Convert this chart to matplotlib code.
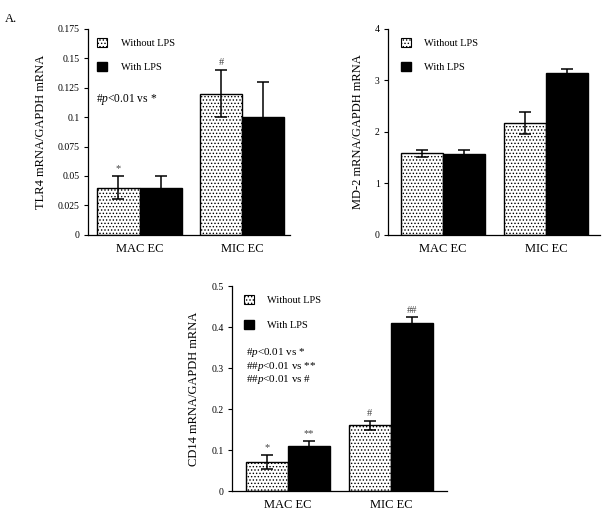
import matplotlib
matplotlib.use('Agg')
import matplotlib.pyplot as plt
from matplotlib.patches import Patch

plt.rcParams['font.family'] = ['Liberation Serif', 'DejaVu Serif']
plt.rcParams['mathtext.fontset'] = 'custom'
plt.rcParams['mathtext.rm'] = 'Liberation Serif'
plt.rcParams['mathtext.it'] = 'Liberation Serif:italic'
plt.rcParams['hatch.linewidth'] = 0.6

# data
groups = ['MAC EC', 'MIC EC']

tlr4_without = [0.040, 0.120]
tlr4_without_err = [0.010, 0.020]
tlr4_with = [0.040, 0.100]
tlr4_with_err = [0.010, 0.030]

md2_without = [1.58, 2.17]
md2_without_err = [0.07, 0.21]
md2_with = [1.56, 3.14]
md2_with_err = [0.08, 0.08]

cd14_without = [0.070, 0.160]
cd14_without_err = [0.017, 0.012]
cd14_with = [0.110, 0.410]
cd14_with_err = [0.012, 0.014]

tlr4_ticks = [0, 0.025, 0.05, 0.075, 0.1, 0.125, 0.15, 0.175]
tlr4_ticklabels = ['0', '0.025', '0.05', '0.075', '0.1', '0.125', '0.15', '0.175']
md2_ticks = [0, 1, 2, 3, 4]
cd14_ticks = [0, 0.1, 0.2, 0.3, 0.4, 0.5]
cd14_ticklabels = ['0', '0.1', '0.2', '0.3', '0.4', '0.5']

fig = plt.figure(figsize=(6.03, 5.16), dpi=100)
fig.text(0.008, 0.975, 'A.', fontsize=9, va='top')

W = 0.41
x = [0, 1]


def panel(rect, without, without_err, with_, with_err, ylim, ticks, ticklabels, xlim, ylabel, leg_xy):
    ax = fig.add_axes(rect)
    xl = [i - W / 2 for i in x]
    xr = [i + W / 2 for i in x]
    ax.bar(xl, without, W, color='white', edgecolor='black', hatch='.....', linewidth=1.0,
           yerr=without_err, error_kw=dict(ecolor='black', elinewidth=1.1, capsize=4.5, capthick=1.1))
    ax.bar(xr, with_, W, color='black', edgecolor='black', linewidth=1.0,
           yerr=with_err, error_kw=dict(ecolor='black', elinewidth=1.1, capsize=4.5, capthick=1.1))
    ax.set_xlim(*xlim)
    ax.set_ylim(*ylim)
    ax.set_yticks(ticks)
    ax.set_yticklabels(ticklabels, fontsize=7)
    ax.set_xticks(x)
    ax.set_xticklabels(groups, fontsize=9)
    ax.tick_params(axis='x', length=0, pad=6)
    ax.tick_params(axis='y', length=3, width=0.8, pad=3)
    ax.spines['top'].set_visible(False)
    ax.spines['right'].set_visible(False)
    ax.spines['left'].set_linewidth(0.9)
    ax.spines['bottom'].set_linewidth(0.9)
    ax.set_ylabel(ylabel, fontsize=9, labelpad=8)
    handles = [Patch(facecolor='white', edgecolor='black', hatch='.....', linewidth=0.8),
               Patch(facecolor='black', edgecolor='black')]
    ax.legend(handles, ['Without LPS', 'With LPS'], loc='upper left', bbox_to_anchor=leg_xy,
              frameon=False, fontsize=7.5, handlelength=0.95, handleheight=0.95,
              handletextpad=1.3, labelspacing=1.35, borderpad=0, borderaxespad=0)
    return ax


def mark(ax, xpos, top, s):
    ax.annotate(s, (xpos, top), xytext=(0, 2), textcoords='offset points',
                ha='center', va='bottom', fontsize=7.5, color='#444444')


ax1 = panel([0.146, 0.545, 0.335, 0.399], tlr4_without, tlr4_without_err, tlr4_with, tlr4_with_err,
            (0, 0.175), tlr4_ticks, tlr4_ticklabels, (-0.502, 1.468),
            'TLR4 mRNA/GAPDH mRNA', (0.045, 0.955))
mark(ax1, x[0] - W / 2, tlr4_without[0] + tlr4_without_err[0], '*')
mark(ax1, x[1] - W / 2, tlr4_without[1] + tlr4_without_err[1], '#')
ax1.text(0.04, 0.655, r'#$p$<0.01 vs *', transform=ax1.transAxes, fontsize=8.3, va='center')

ax2 = panel([0.6434, 0.545, 0.3516, 0.399], md2_without, md2_without_err, md2_with, md2_with_err,
            (0, 4), md2_ticks, [str(t) for t in md2_ticks], (-0.534, 1.524),
            'MD-2 mRNA/GAPDH mRNA', (0.061, 0.955))

ax3 = panel([0.3847, 0.0484, 0.3566, 0.397], cd14_without, cd14_without_err, cd14_with, cd14_with_err,
            (0, 0.5), cd14_ticks, cd14_ticklabels, (-0.544, 1.544),
            'CD14 mRNA/GAPDH mRNA', (0.056, 0.955))
mark(ax3, x[0] - W / 2, cd14_without[0] + cd14_without_err[0], '*')
mark(ax3, x[0] + W / 2, cd14_with[0] + cd14_with_err[0], '**')
mark(ax3, x[1] - W / 2, cd14_without[1] + cd14_without_err[1], '#')
mark(ax3, x[1] + W / 2, cd14_with[1] + cd14_with_err[1], '##')
ax3.text(0.065, 0.678, r'#$p$<0.01 vs *', transform=ax3.transAxes, fontsize=8, va='center')
ax3.text(0.065, 0.608, r'##$p$<0.01 vs **', transform=ax3.transAxes, fontsize=8, va='center')
ax3.text(0.065, 0.543, r'##$p$<0.01 vs #', transform=ax3.transAxes, fontsize=8, va='center')

fig.savefig('out.png', dpi=100)
